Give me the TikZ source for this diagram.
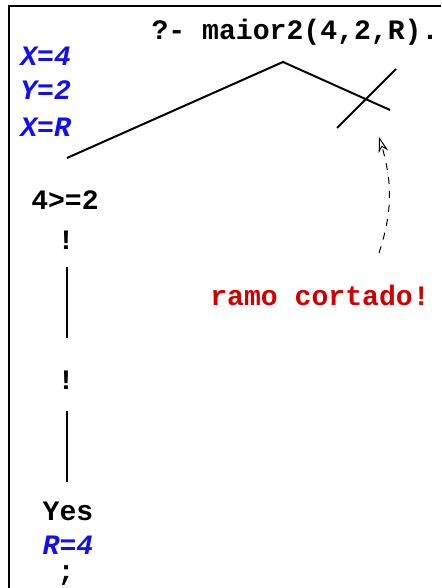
\documentclass[tikz,border=0pt]{standalone}
\usepackage{fontspec}
\setmonofont{Liberation Mono}
\usepackage{tikz}
\usetikzlibrary{arrows.meta, bending}
\definecolor{bindblue}{HTML}{1010F0}
\definecolor{cutred}{HTML}{D00000}

\begin{document}
\begin{tikzpicture}[
    txt/.style={font=\fontsize{20}{24}\selectfont\ttfamily\bfseries, inner sep=0pt},
    bind/.style={txt, text=bindblue, font=\fontsize{20}{24}\selectfont\ttfamily\bfseries\itshape, anchor=west},
    branch/.style={line width=1.4pt},
    note/.style={dash pattern=on 5pt off 5pt, line width=0.7pt}
  ]
    \useasboundingbox (0,0) rectangle (11.025,14.7);
    % frame
    \draw[line width=2pt] (0.225,0) -- (0.225,14.55) -- (11.025,14.55);

    % query and bindings
    \node[txt] (query) at (7.375,13.9) {?- maior2(4,2,R).};
    \node[bind] (bx) at (0.5,13.3) {X=4};
    \node[bind] (by) at (0.5,12.45) {Y=2};
    \node[bind] (bxr) at (0.5,11.525) {X=R};

    % tree
    \coordinate (apex) at (7.075,13.15);
    \coordinate (leftend) at (1.675,10.75);
    \coordinate (rightend) at (9.75,11.95);
    \coordinate (cutlo) at (8.425,11.5);
    \coordinate (cuthi) at (9.9,12.975);
    \draw[branch] (leftend) -- (apex) -- (rightend);
    \draw[branch] (cutlo) -- (cuthi);

    % left branch
    \node[txt] (goal) at (1.625,9.7) {4>=2};
    \node[txt] (cuta) at (1.65,8.7) {!};
    \node[txt] (cutb) at (1.65,5.2) {!};
    \node[txt] (yes) at (1.7,1.925) {Yes};
    \node[bind, anchor=center] (res) at (1.7,1.08) {R=4};
    \node[txt] (more) at (1.65,0.3) {;};
    \coordinate (la) at (1.675,8.025);
    \coordinate (lb) at (1.675,6.25);
    \coordinate (lc) at (1.675,4.425);
    \coordinate (ld) at (1.675,2.65);
    \draw[branch] (la) -- (lb);
    \draw[branch] (lc) -- (ld);

    % note
    \node[txt, text=cutred] (cutnote) at (8.0,7.325) {ramo cortado!};
    \coordinate (notefrom) at (9.475,8.375);
    \coordinate (noteto) at (9.475,11.275);
    \draw[note, -{Stealth[open, length=11pt, width=7pt, bend]}] (notefrom) to[bend right=18] (noteto);
\end{tikzpicture}
\end{document}
